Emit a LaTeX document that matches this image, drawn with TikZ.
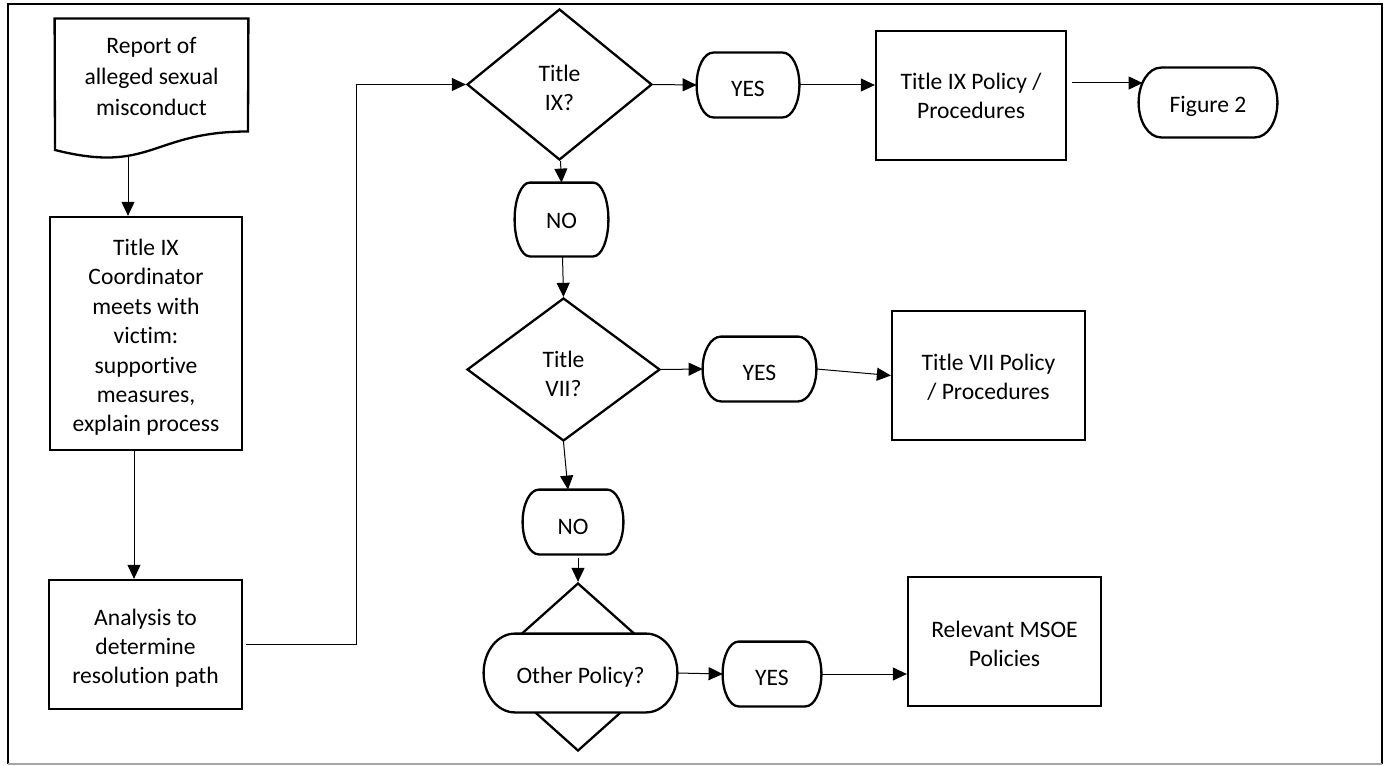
\documentclass[tikz,border=0pt]{standalone}
\usepackage{fontspec}
\setmainfont{Carlito}[Ligatures=NoCommon]
\usetikzlibrary{shapes.geometric,arrows.meta,calc}
\pgfdeclarelayer{under}
\pgfdeclarelayer{outline}
\pgfsetlayers{under,outline,main}

\tikzset{
  x=0.5pt, y=0.5pt,
  every node/.style={font=\fontsize{11.8pt}{14.5pt}\selectfont, align=center, inner sep=0pt},
  shapeline/.style={line width=1.15pt, line join=miter},
  procbox/.style={draw, shapeline, rectangle},
  decision/.style={draw, shapeline, diamond},
  termtext/.style={rectangle},
  conn/.style={line width=0.5pt, -{Triangle[length=7pt,width=6.5pt]}},
}

% first text line with extra height, so the text sits a little lower in its shape
\newcommand\lift[2]{\raisebox{#1}{\vphantom{#2}}#2}

% terminator outline: straight top/bottom, half-elliptic ends
\newcommand\termoutline[1]{%
  \draw[shapeline, fill=white] let \p1=(#1.north west), \p2=(#1.south east),
    \n1={0.161*(\x2-\x1)}, \n2={0.5*(\y1-\y2)} in
    (\x1+\n1,\y1) -- (\x2-\n1,\y1)
    arc[start angle=90, end angle=-90, x radius=\n1, y radius=\n2]
    -- (\x1+\n1,\y2)
    arc[start angle=270, end angle=90, x radius=\n1, y radius=\n2] -- cycle;}

\begin{document}
\begin{tikzpicture}
\useasboundingbox (0,0) rectangle (1390,-765);

% frame
\draw[line width=1.4pt] (8,-764) -- (8,-4) -- (1382,-4) -- (1382,-764);
\draw[gray!70, line width=0.6pt] (8,-764) -- (1382,-764);

% left column
\node[rectangle, minimum width=96.5pt, minimum height=57pt,
      font=\fontsize{11.8pt}{15.5pt}\selectfont] (report) at (151.5,-76)
  {Report of\\alleged sexual\\misconduct};
\draw[shapeline] (55,-150) -- (report.north west) -- (report.north east) -- (248,-131.5)
  .. controls (151.5,-131.5) and (151.5,-174.4) .. (55,-150) -- cycle;
\coordinate (reportout) at (128,-156);

\node[procbox, minimum width=96pt, minimum height=116.5pt,
      font=\fontsize{11.8pt}{14.7pt}\selectfont] (coord) at (146,-333.5)
  {\lift{4pt}{Title IX}\\Coordinator\\meets with\\victim:\\supportive\\measures,\\explain process};

\node[procbox, minimum width=96.5pt, minimum height=64.5pt] (analysis) at (145.5,-644.5)
  {\lift{4pt}{Analysis to}\\determine\\resolution path};

% decisions
\node[decision, minimum width=92.5pt, minimum height=75.5pt] (d1) at (559.5,-84.5) {\lift{3pt}{Title}\\IX?};
\node[decision, minimum width=96.5pt, minimum height=71.5pt] (d2) at (563.5,-369.5) {\lift{4pt}{Title}\\VII?};
\begin{pgfonlayer}{under}
\node[decision, minimum width=94pt, minimum height=84pt] (d3) at (578,-667) {};
\end{pgfonlayer}

% terminators
\node[termtext, minimum width=51pt, minimum height=32pt] (yes1) at (748,-85) {\lift{4pt}{YES}};
\node[termtext, minimum width=69pt, minimum height=34.5pt] (fig2) at (1208,-102.5) {\lift{4pt}{Figure 2}};
\node[termtext, minimum width=46.5pt, minimum height=36.5pt] (no1) at (561.5,-219.5) {\lift{1pt}{NO}};
\node[termtext, minimum width=56.5pt, minimum height=32pt] (yes2) at (759.5,-369) {\lift{4pt}{YES}};
\node[termtext, minimum width=50pt, minimum height=32pt] (no2) at (573,-522) {\lift{5pt}{NO}};
\node[termtext, minimum width=96.5pt, minimum height=39pt] (other) at (580.5,-673) {\lift{4pt}{Other Policy?}};
\node[termtext, minimum width=49pt, minimum height=32pt] (yes3) at (772,-674) {\lift{4pt}{YES}};
\begin{pgfonlayer}{outline}
\termoutline{yes1}
\termoutline{fig2}
\termoutline{no1}
\termoutline{yes2}
\termoutline{no2}
\termoutline{other}
\termoutline{yes3}
\end{pgfonlayer}

% outcome boxes
\node[procbox, minimum width=95pt, minimum height=64.5pt] (t9box) at (971,-95.5)
  {Title IX Policy /\\Procedures};
\node[procbox, minimum width=96.5pt, minimum height=64.5pt] (t7box) at (988.5,-375.5)
  {\lift{2pt}{Title VII Policy}\\/ Procedures};
\node[procbox, minimum width=96.5pt, minimum height=64.5pt] (msoe) at (1004.5,-641.5)
  {\lift{2pt}{Relevant MSOE}\\Policies};

% connectors
\coordinate (bend) at (356,0);
\draw[conn] (reportout) -- (reportout |- coord.north);
\draw[conn] ([xshift=-6pt]coord.south) -- ([xshift=-5.75pt]analysis.north);
\draw[conn] ([xshift=1.5pt]analysis.east) -- (bend |- analysis.east) |- (d1.west);
\draw[conn] (d1.east) -- (yes1.west);
\draw[conn] (yes1.east) -- (t9box.west |- yes1.east);
\draw[conn] ([xshift=2.5pt,yshift=6.25pt]t9box.east) -- ([xshift=2pt,yshift=9.75pt]fig2.west);
\draw[conn] ([xshift=0.5pt]d1.south) -- (no1.north);
\draw[conn] ([xshift=0.5pt]no1.south) -- (d2.north);
\draw[conn] (d2.east) -- (yes2.west);
\draw[conn] (yes2.east) -- (t7box.west);
\draw[conn] (d2.south) -- ([xshift=-2.5pt]no2.north);
\draw[conn] ([xshift=2.5pt,yshift=-2pt]no2.south) -- (d3.north);
\draw[conn] (other.east) -- (yes3.west);
\draw[conn] (yes3.east) -- (msoe.west |- yes3.east);
\end{tikzpicture}
\end{document}
